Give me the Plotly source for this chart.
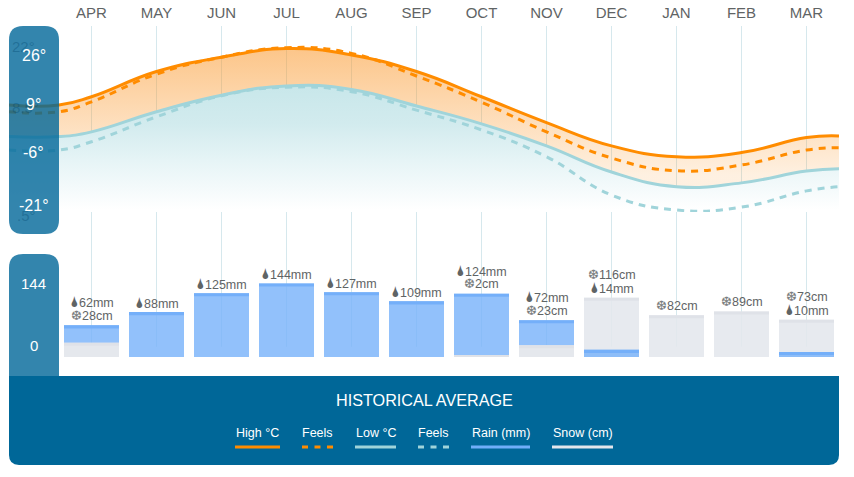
import plotly.graph_objects as go

W, H = 854, 477
FONT = "Liberation Sans"

months = ["APR", "MAY", "JUN", "JUL", "AUG", "SEP", "OCT", "NOV", "DEC", "JAN", "FEB", "MAR"]
month_pos = list(range(12))

# Curve stations: a lead-in under the scale panel, the twelve months, a closing edge
curve_x = [-1.27, -0.5, 0, 1, 2, 3, 4, 5, 6, 7, 8, 9, 10, 11, 11.5]
high_c = [10.0, 10.0, 12.6, 20.5, 25.0, 27.7, 25.7, 20.5, 12.6, 4.5, -2.8, -6.2, -4.9, -0.2, 0.3]
high_feels_c = [7.9, 7.9, 11.0, 19.7, 25.0, 28.0, 26.2, 19.1, 10.9, 1.6, -6.6, -10.6, -8.8, -4.1, -3.4]
low_c = [0.1, 0.1, 1.6, 7.9, 13.1, 16.0, 14.9, 9.7, 4.1, -2.8, -11.0, -15.6, -14.4, -10.7, -10.0]
low_feels_c = [-4.1, -4.1, -1.5, 6.3, 12.9, 15.6, 14.2, 8.4, 2.2, -6.2, -18.2, -22.9, -22.0, -16.9, -15.6]

rain_mm = [62, 88, 125, 144, 127, 109, 124, 72, 14, 0, 0, 10]
snow_cm = [28, 0, 0, 0, 0, 0, 2, 23, 116, 82, 89, 73]

temp_labels = ["26°", "9°", "-6°", "-21°"]
bar_labels = ["144", "0"]
legend_names = ["High °C", "Feels", "Low °C", "Feels", "Rain (mm)", "Snow (cm)"]

ORANGE = "#ff8c00"
TEAL = "#a0d4da"
RAIN = "rgba(119,177,250,0.8)"
RAIN_CAP = "#74aff9"
SNOW = "rgba(228,231,237,0.88)"
SNOW_SOLID = "#e5e8ed"
SNOW_CAP = "#dfe2e8"
GRID = "#d6e8ed"
TEXT = "#5f6465"
NAVY = "#006798"
PANEL = "rgba(0,103,152,0.8)"

X_RANGE = [-0.5 - 50 / 65, 11.5]
T_RANGE = [-23.53, 34.78]
BAR_RANGE = [0, 284]
FLOOR = [T_RANGE[0]] * len(curve_x)
CAP = 6  # depth of the darker band on top of each bar, in axis units
RULE_END = 20  # where the month rules stop inside the bars
SMOOTH = 1.3


def px(x):
    return x / W


def py(y):
    return 1 - y / H


def rounded(x0, y0, x1, y1, tl=0, tr=0, br=0, bl=0):
    """Path in paper units for a box given in pixels, with per-corner radii."""
    def p(x, y):
        return f"{px(x):.5f},{py(y):.5f}"
    return (
        f"M{p(x0 + tl, y0)} L{p(x1 - tr, y0)} Q{p(x1, y0)} {p(x1, y0 + tr)} "
        f"L{p(x1, y1 - br)} Q{p(x1, y1)} {p(x1 - br, y1)} "
        f"L{p(x0 + bl, y1)} Q{p(x0, y1)} {p(x0, y1 - bl)} "
        f"L{p(x0, y0 + tl)} Q{p(x0, y0)} {p(x0 + tl, y0)} Z"
    )


hidden_edge = dict(width=0, shape="spline", smoothing=SMOOTH)

fig = go.Figure()

# Temperature bands: fills first so that every line stays on top of them
fig.add_trace(go.Scatter(x=curve_x, y=high_c, mode="lines", line=hidden_edge, hoverinfo="skip"))
fig.add_trace(go.Scatter(
    x=curve_x, y=low_c, mode="lines", line=hidden_edge, fill="tonexty", hoverinfo="skip",
    fillgradient=dict(type="vertical", start=28, stop=-12,
                      colorscale=[[0, "rgba(250,150,40,0.55)"], [1, "rgba(250,150,40,0.14)"]]),
))
fig.add_trace(go.Scatter(x=curve_x, y=low_c, mode="lines", line=hidden_edge, hoverinfo="skip"))
fig.add_trace(go.Scatter(
    x=curve_x, y=FLOOR, mode="lines", line=dict(width=0), fill="tonexty", hoverinfo="skip",
    fillgradient=dict(type="vertical", start=16, stop=T_RANGE[0] + 0.6,
                      colorscale=[[0, "#c8e7ea"], [0.3, "#d2ebee"], [0.6, "#e6f4f6"], [1, "#ffffff"]]),
))

for values, color, dash, width in [
    (low_feels_c, TEAL, "7px,6px", 3),
    (low_c, TEAL, "solid", 3),
    (high_c, ORANGE, "solid", 3),
    (high_feels_c, ORANGE, "7px,6px", 3),
]:
    fig.add_trace(go.Scatter(x=curve_x, y=values, mode="lines",
                             line=dict(color=color, width=width, dash=dash, shape="spline", smoothing=SMOOTH)))

# Month rules continue down behind the bars, as hairline bars so they stay under them
fig.add_trace(go.Bar(x=month_pos, y=[BAR_RANGE[1] - RULE_END] * 12, base=[RULE_END] * 12, width=1 / 65,
                     marker=dict(color=GRID, line_width=0), xaxis="x2", yaxis="y2", hoverinfo="skip"))


def add_bars(values, fill, cap):
    """A bar body plus its darker top band; empty months are left out."""
    xs = [m for m, v in zip(month_pos, values) if v]
    vs = [v for v in values if v]
    fig.add_trace(go.Bar(x=xs, y=vs, width=55 / 65, marker=dict(color=fill, line_width=0), xaxis="x2", yaxis="y2"))
    fig.add_trace(go.Bar(x=xs, y=[min(CAP, v) for v in vs], base=[max(v - CAP, 0) for v in vs],
                         width=55 / 65, marker=dict(color=cap, line_width=0), xaxis="x2", yaxis="y2"))


# The taller amount of each month sits behind the shorter one
add_bars([s if s >= r else 0 for r, s in zip(rain_mm, snow_cm)], SNOW, SNOW_CAP)
add_bars(rain_mm, RAIN, RAIN_CAP)
add_bars([s if s < r else 0 for r, s in zip(rain_mm, snow_cm)], SNOW_SOLID, SNOW_CAP)

annotations = []


def note(x, y, text, size, color, xref="paper", yref="paper", yshift=0, xanchor="center"):
    annotations.append(dict(x=x, y=y, xref=xref, yref=yref, text=text, showarrow=False, xanchor=xanchor,
                            yanchor="middle", yshift=yshift, font=dict(family=FONT, size=size, color=color)))


# Amount captions above each bar, larger amount first
DROP = '<span style="font-size:14.5px">\U0001F322</span>'
FLAKE = '<span style="color:#7b8081">\u2746</span>'
for m, r, s in zip(month_pos, rain_mm, snow_cm):
    rain_text = f"{DROP}{r}mm" if r else None
    snow_text = f"{FLAKE}{s}cm" if s else None
    lines = [rain_text, snow_text] if r >= s else [snow_text, rain_text]
    lines = [t for t in lines if t]
    top = max(r, s)
    for i, t in enumerate(reversed(lines)):
        note(m, top, t, 12.5, TEXT, xref="x2", yref="y2", yshift=9.5 + 13.5 * i)

# Older scale values left faintly visible behind the panel
for text, x, y in [("22°", 10, 46), ("8.5°", 10, 107), (".5°", 15, 215)]:
    note(px(x), py(y), text, 15, "rgba(0,70,110,0.35)", xanchor="left")

for text, y in zip(temp_labels, [55, 105, 153, 205]):
    note(px(33.5), py(y), text, 16, "#ffffff")
for text, y in zip(bar_labels, [283, 345]):
    note(px(33.5), py(y), text, 15, "#ffffff")

note(px(424), py(400), "HISTORICAL AVERAGE", 16.2, "#ffffff")

shapes = [
    dict(type="path", path=rounded(9, 26, 59, 234, 14, 14, 14, 14), fillcolor=PANEL, line_width=0, xref="paper", yref="paper", layer="above"),
    dict(type="path", path=rounded(9, 254, 59, 376, 14, 14, 0, 0), fillcolor=PANEL, line_width=0, xref="paper", yref="paper", layer="above"),
    dict(type="path", path=rounded(9, 376, 839, 465, 0, 0, 10, 10), fillcolor=NAVY, line_width=0, xref="paper", yref="paper", layer="above"),
]

# Footer key: a caption over a sample stroke
key_spans = [(235, 280), (302, 333), (355, 396), (418, 449), (471, 530), (552, 613)]
key_styles = [(ORANGE, "solid"), (ORANGE, "6px,6.5px"), (TEAL, "solid"), (TEAL, "6px,6.5px"), ("#70aef9", "solid"), ("#e3e6ec", "solid")]
for name, (x0, x1), (color, dash) in zip(legend_names, key_spans, key_styles):
    note(px((x0 + x1) / 2), py(433), name, 12.5, "#ffffff")
    shapes.append(dict(type="line", x0=px(x0), x1=px(x1), y0=py(447), y1=py(447), xref="paper", yref="paper",
                       line=dict(color=color, width=3, dash=dash), layer="above"))

fig.update_layout(
    width=W, height=H, autosize=False,
    margin=dict(l=0, r=0, t=0, b=0),
    paper_bgcolor="white", plot_bgcolor="white",
    showlegend=False, barmode="overlay",
    annotations=annotations, shapes=shapes,
    xaxis=dict(domain=[px(9), px(839)], range=X_RANGE, side="top", tickvals=month_pos, ticktext=months,
               tickfont=dict(family=FONT, size=15, color=TEXT), showgrid=True, gridcolor=GRID, gridwidth=1,
               zeroline=False, showline=False, ticks="outside", ticklen=1, tickcolor="rgba(0,0,0,0)", anchor="y"),
    yaxis=dict(domain=[py(212), py(26)], range=T_RANGE, visible=False, anchor="x"),
    xaxis2=dict(domain=[px(9), px(839)], range=X_RANGE, visible=False, anchor="y2"),
    yaxis2=dict(domain=[py(357), py(212)], range=BAR_RANGE, visible=False, anchor="x2"),
)

fig.write_html("out.html", config=dict(displayModeBar=False))
